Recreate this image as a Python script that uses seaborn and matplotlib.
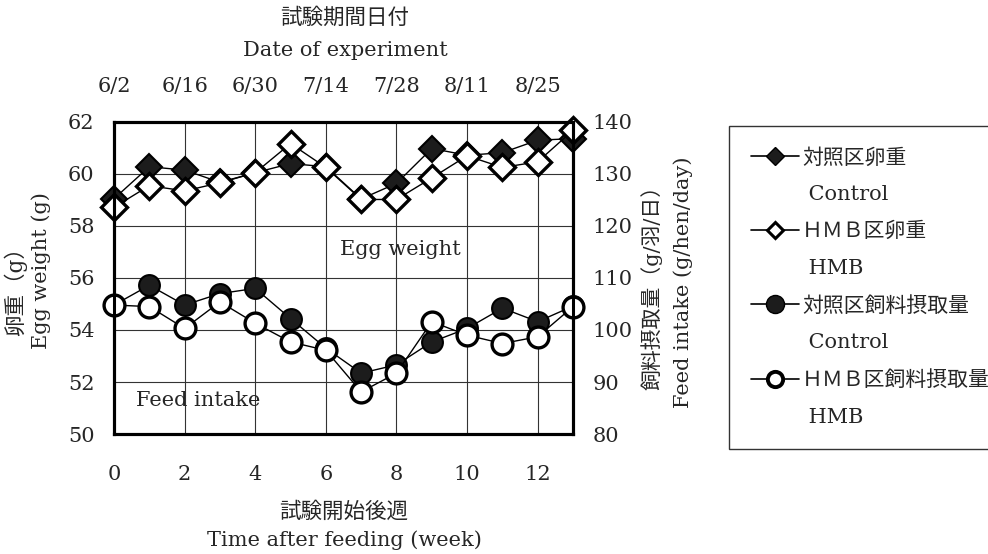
import matplotlib
matplotlib.use("Agg")
import matplotlib.pyplot as plt
from matplotlib.lines import Line2D
import pandas as pd
import seaborn as sns

# seaborn settings
sns.set_style("white")
plt.rcParams["font.family"] = ["DejaVu Serif", "Noto Sans CJK JP"]

weeks = list(range(14))
dates = ["6/2", "6/16", "6/30", "7/14", "7/28", "8/11", "8/25"]
date_weeks = [0, 2, 4, 6, 8, 10, 12]

# egg weight (g), left axis
egg_control = [59.05, 60.28, 60.15, 59.68, 60.05, 60.40, 60.28, 59.04,
               59.64, 60.98, 60.72, 60.82, 61.30, 61.36]
egg_hmb = [58.72, 59.55, 59.35, 59.66, 60.05, 61.17, 60.25, 59.02,
           59.02, 59.85, 60.70, 60.25, 60.47, 61.68]

# feed intake (g/hen/day), right axis
feed_control = [104.8, 108.6, 104.8, 107.0, 108.0, 102.2, 96.5, 91.7,
                93.3, 97.7, 100.3, 104.2, 101.6, 104.6]
feed_hmb = [104.8, 104.5, 100.3, 105.4, 101.3, 97.7, 96.1, 88.1,
            91.7, 101.6, 99.0, 97.4, 98.7, 104.5]

df = pd.DataFrame({"week": weeks,
                   "egg_control": egg_control, "egg_hmb": egg_hmb,
                   "feed_control": feed_control, "feed_hmb": feed_hmb})

fig = plt.figure(figsize=(9.88, 5.54), dpi=100)
ax = fig.add_axes([0.1154, 0.2166, 0.4646, 0.5632])
ax2 = ax.twinx()
ax3 = ax.twiny()

dark = "#1c1c1c"
line_kw = dict(color="black", linewidth=1.0, clip_on=False)

sns.lineplot(data=df, x="week", y="egg_control", ax=ax, marker="D",
             markersize=13.5, markerfacecolor=dark, markeredgecolor="black",
             markeredgewidth=1.5, zorder=3, **line_kw)
sns.lineplot(data=df, x="week", y="egg_hmb", ax=ax, marker="D",
             markersize=13.5, markerfacecolor="white", markeredgecolor="black",
             markeredgewidth=2.4, zorder=4, **line_kw)
sns.lineplot(data=df, x="week", y="feed_control", ax=ax2, marker="o",
             markersize=15, markerfacecolor=dark, markeredgecolor="black",
             markeredgewidth=1.5, zorder=3, **line_kw)
sns.lineplot(data=df, x="week", y="feed_hmb", ax=ax2, marker="o",
             markersize=15, markerfacecolor="white", markeredgecolor="black",
             markeredgewidth=2.4, zorder=4, **line_kw)

ax.set_xlim(0, 13)
ax.set_ylim(50, 62)
ax2.set_ylim(80, 140)
ax.set_xticks(range(0, 13, 2))
ax.set_yticks(range(50, 63, 2))
ax2.set_yticks(range(80, 141, 10))
ax.grid(True, color="#333333", linewidth=0.8)
ax.set_axisbelow(True)

ax3.set_xlim(0, 13)
ax3.set_xticks(date_weeks)
ax3.set_xticklabels(dates)

for a in (ax, ax2, ax3):
    a.set_xlabel("")
    a.set_ylabel("")
    for s in a.spines.values():
        s.set_linewidth(2.2)
        s.set_color("black")

ax.tick_params(axis="x", length=0, pad=22, labelsize=15)
ax.tick_params(axis="y", length=0, pad=14, labelsize=15)
ax2.tick_params(axis="y", length=0, pad=14, labelsize=15)
ax3.tick_params(axis="x", length=0, pad=19, labelsize=15)

ax.text(6.4, 57.08, "Egg weight", fontsize=15, ha="left", va="center")
ax.text(0.62, 51.28, "Feed intake", fontsize=15, ha="left", va="center")

# axis titles
W, H = 988, 554
fig.text(345 / W, 1 - 18 / H, "試験期間日付", fontsize=15.5, ha="center", va="center")
fig.text(345 / W, 1 - 50 / H, "Date of experiment", fontsize=15, ha="center", va="center")
fig.text(344 / W, 1 - 512 / H, "試験開始後週", fontsize=15.5, ha="center", va="center")
fig.text(344 / W, 1 - 540 / H, "Time after feeding (week)", fontsize=15, ha="center", va="center")
fig.text(15 / W, 1 - 286 / H, "卵重（g）", fontsize=15.5, rotation=90, ha="center", va="center")
fig.text(41 / W, 1 - 271 / H, "Egg weight (g)", fontsize=15, rotation=90, ha="center", va="center")
fig.text(652 / W, 1 - 282 / H, "飼料摂取量（g/羽/日）", fontsize=15, rotation=90, ha="center", va="center")
fig.text(683 / W, 1 - 282 / H, "Feed intake (g/hen/day)", fontsize=15, rotation=90, ha="center", va="center")

# legend: English lines get an empty handle
blank = Line2D([], [], color="none")
handles = [
    Line2D([], [], color="black", lw=1.2, marker="D", ms=9, mfc=dark, mec="black"),
    blank,
    Line2D([], [], color="black", lw=1.2, marker="D", ms=8, mfc="white", mec="black", mew=2.2),
    blank,
    Line2D([], [], color="black", lw=1.2, marker="o", ms=13, mfc=dark, mec="black"),
    blank,
    Line2D([], [], color="black", lw=1.2, marker="o", ms=11, mfc="white", mec="black", mew=2.8),
    blank,
]
labels = ["対照区卵重", " Control", "ＨＭＢ区卵重", " HMB",
          "対照区飼料摂取量", " Control", "ＨＭＢ区飼料摂取量", " HMB"]
leg = fig.legend(handles, labels, loc="upper left",
                 bbox_to_anchor=(729 / W, 1 - 126 / H), fontsize=15,
                 frameon=True, fancybox=False, handlelength=2.3,
                 handletextpad=0.15, borderpad=1.05, borderaxespad=0,
                 labelspacing=0.85)
leg.get_frame().set_edgecolor("black")
leg.get_frame().set_linewidth(1.0)

plt.savefig("out.png", dpi=100)
